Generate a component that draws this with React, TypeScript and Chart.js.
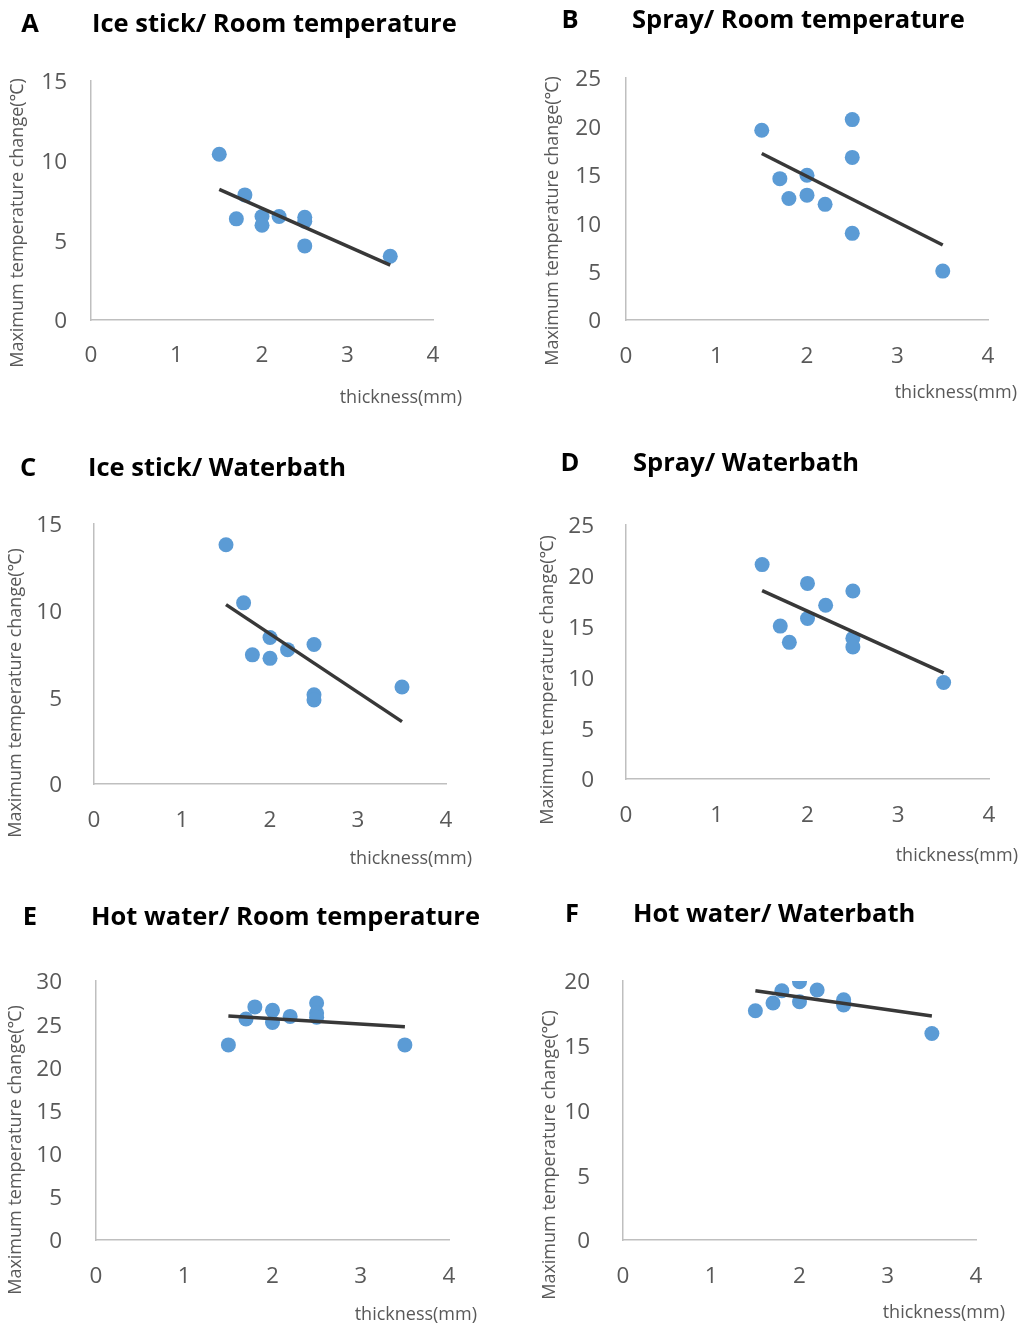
import React, { useEffect, useRef } from "react";
import { Chart, registerables } from "chart.js";

Chart.register(...registerables);

// ---- data ----
const thickness = [1.5, 1.7, 1.8, 2.0, 2.0, 2.2, 2.5, 2.5, 2.5, 3.5];
const changeA = [10.4, 6.35, 7.85, 6.5, 5.95, 6.5, 6.45, 6.2, 4.65, 4.0];
const changeB = [19.6, 14.6, 12.55, 14.95, 12.9, 11.95, 20.7, 16.8, 8.95, 5.05];
const changeC = [13.8, 10.45, 7.45, 8.45, 7.25, 7.75, 8.05, 5.15, 4.85, 5.6];
const changeD = [21.1, 15.05, 13.45, 19.25, 15.8, 17.1, 18.5, 13.85, 13.0, 9.5];
const changeE = [22.6, 25.6, 27.0, 26.6, 25.2, 25.9, 27.45, 26.3, 25.8, 22.6];
const changeF = [17.7, 18.3, 19.25, 19.95, 18.4, 19.3, 18.55, 18.35, 18.15, 15.95];

const trendX = [1.5, 3.5];
const trendA = [8.2, 3.45];
const trendB = [17.2, 7.75];
const trendC = [10.35, 3.6];
const trendD = [18.55, 10.45];
const trendE = [25.95, 24.7];
const trendF = [19.25, 17.3];

const panelLetters = ["A", "B", "C", "D", "E", "F"];
const panelTitles = [
  "Ice stick/ Room temperature",
  "Spray/ Room temperature",
  "Ice stick/ Waterbath",
  "Spray/ Waterbath",
  "Hot water/ Room temperature",
  "Hot water/ Waterbath",
];
const yMaxes = [15, 25, 15, 25, 30, 20];
const xTicksMax = 4;
const xAxisTitle = "thickness(mm)";
const yAxisTitle = "Maximum temperature change(\u2103)";

const seriesValues = [changeA, changeB, changeC, changeD, changeE, changeF];
const trendValues = [trendA, trendB, trendC, trendD, trendE, trendF];

// ---- layout (page coordinates) ----
const W = 1025;
const H = 1327;
const layouts = [
  { plot: [91, 81, 433, 320], padY: 24, padX: 22, letter: [30, 25], title: [92, 25], xt: [462, 398], yt: [18, 223] },
  { plot: [626, 78, 988, 320], padY: 25, padX: 23, letter: [570, 21], title: [632, 21], xt: [1017, 393], yt: [553, 221] },
  { plot: [94, 524, 446, 784], padY: 32, padX: 23, letter: [28, 469], title: [88, 469], xt: [472, 859], yt: [16, 693] },
  { plot: [626, 525, 989, 779], padY: 32, padX: 23, letter: [570, 464], title: [633, 464], xt: [1018, 856], yt: [548, 680] },
  { plot: [96, 981, 449, 1240], padY: 34, padX: 23, letter: [30, 918], title: [91, 918], xt: [477, 1315], yt: [16, 1150] },
  { plot: [623, 981, 976, 1240], padY: 33, padX: 23, letter: [572, 915], title: [633, 915], xt: [1005, 1313], yt: [550, 1155] },
];

const FONT = "'Open Sans', 'Noto Sans', sans-serif";
const TEXT_GRAY = "#595959";
const AXIS_GRAY = "#bfbfbf";
const POINT_BLUE = "#5b9bd5";
const LINE_DARK = "#383838";
const Y_SCALE_W = 70;
const X_SCALE_H = 60;

function Panel({ index }: { index: number }) {
  const ref = useRef<HTMLCanvasElement | null>(null);
  useEffect(() => {
    const canvas = ref.current;
    if (!canvas) return;
    const lay = layouts[index];
    const [L, T, R, B] = lay.plot;
    const textPlugin = {
      id: "panelText" + index,
      afterDraw(chart: any) {
        const ctx = chart.ctx;
        ctx.save();
        ctx.fillStyle = "#000";
        ctx.textBaseline = "middle";
        ctx.font = "bold 25.5px " + FONT;
        ctx.textAlign = "center";
        ctx.fillText(panelLetters[index], lay.letter[0], lay.letter[1]);
        ctx.textAlign = "left";
        ctx.fillText(panelTitles[index], lay.title[0], lay.title[1]);
        ctx.fillStyle = TEXT_GRAY;
        ctx.font = "18px " + FONT;
        ctx.textAlign = "right";
        ctx.fillText(xAxisTitle, lay.xt[0], lay.xt[1]);
        ctx.translate(lay.yt[0], lay.yt[1]);
        ctx.rotate(-Math.PI / 2);
        ctx.textAlign = "center";
        ctx.fillText(yAxisTitle, 0, 0);
        ctx.restore();
      },
    };
    const chart = new Chart(canvas, {
      type: "scatter",
      data: {
        datasets: [
          {
            type: "line",
            data: trendX.map((x, i) => ({ x, y: trendValues[index][i] })),
            borderColor: LINE_DARK,
            borderWidth: 3.5,
            pointRadius: 0,
            fill: false,
            order: 0,
          } as any,
          {
            type: "scatter",
            data: thickness.map((x, i) => ({ x, y: seriesValues[index][i] })),
            backgroundColor: POINT_BLUE,
            borderColor: POINT_BLUE,
            borderWidth: 0,
            pointRadius: 7.5,
            order: 1,
          },
        ],
      },
      options: {
        responsive: false,
        animation: false,
        devicePixelRatio: 1,
        events: [],
        layout: {
          padding: {
            left: L - Y_SCALE_W,
            top: T,
            right: W - R,
            bottom: H - B - X_SCALE_H,
          },
        },
        plugins: {
          legend: { display: false },
          tooltip: { enabled: false },
          title: { display: false },
        },
        scales: {
          x: {
            type: "linear",
            min: 0,
            max: xTicksMax,
            afterFit: (s: any) => {
              s.height = X_SCALE_H;
            },
            ticks: {
              stepSize: 1,
              color: TEXT_GRAY,
              font: { family: FONT, size: 22.5 },
              padding: lay.padX,
              maxRotation: 0,
            },
            grid: { display: false, drawTicks: false },
            border: { display: true, color: AXIS_GRAY, width: 1.5 },
          },
          y: {
            type: "linear",
            min: 0,
            max: yMaxes[index],
            afterFit: (s: any) => {
              s.width = Y_SCALE_W;
            },
            ticks: {
              stepSize: 5,
              color: TEXT_GRAY,
              font: { family: FONT, size: 22.5 },
              padding: lay.padY,
              labelOffset: 2,
            },
            grid: { display: false, drawTicks: false },
            border: { display: true, color: AXIS_GRAY, width: 1.5 },
          },
        },
      },
      plugins: [textPlugin],
    });
    return () => chart.destroy();
  }, [index]);
  return (
    <canvas
      ref={ref}
      width={W}
      height={H}
      style={{ position: "absolute", left: 0, top: 0, width: W, height: H, pointerEvents: "none" }}
    />
  );
}

export default function App() {
  return (
    <div style={{ position: "absolute", left: 0, top: 0, width: W, height: H, background: "#fff", overflow: "hidden" }}>
      {panelLetters.map((_, i) => (
        <Panel key={i} index={i} />
      ))}
    </div>
  );
}
